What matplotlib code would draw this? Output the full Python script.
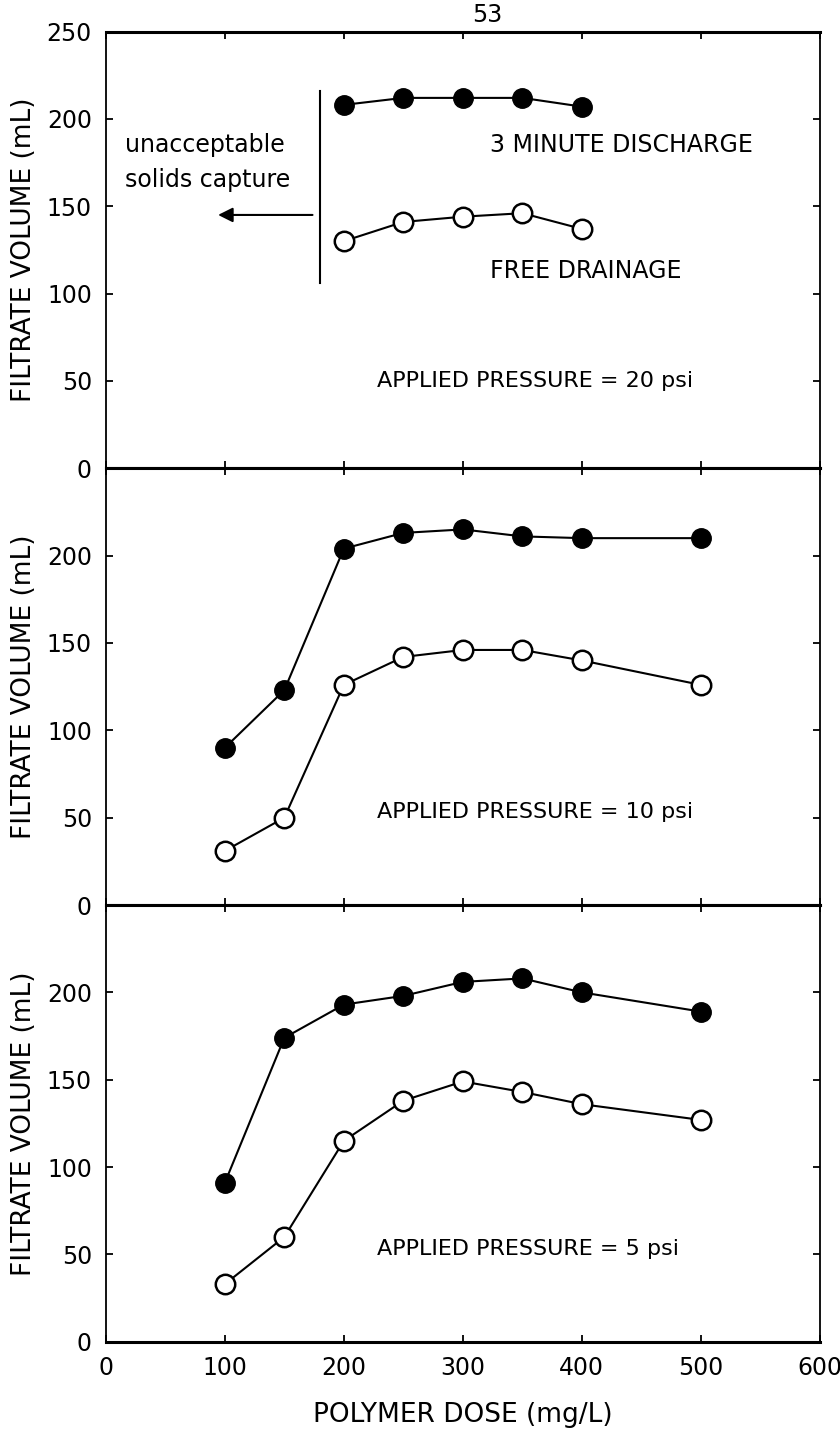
import numpy as np
import matplotlib
matplotlib.use('Agg')
import matplotlib.pyplot as plt

plt.rcParams['font.family'] = ['DejaVu Sans']

# data
dose_20 = [200, 250, 300, 350, 400]
discharge_20 = [208, 212, 212, 212, 207]
free_20 = [130, 141, 144, 146, 137]

dose = [100, 150, 200, 250, 300, 350, 400, 500]
discharge_10 = [90, 123, 204, 213, 215, 211, 210, 210]
free_10 = [31, 50, 126, 142, 146, 146, 140, 126]
discharge_5 = [91, 174, 193, 198, 206, 208, 200, 189]
free_5 = [33, 60, 115, 138, 149, 143, 136, 127]

pressures = ['20', '10', '5']
limit_dose = 180  # unacceptable solids capture below this

fig, axes = plt.subplots(3, 1, sharex=True, figsize=(8.4, 14.32), dpi=100)
plt.subplots_adjust(hspace=0, left=0.126, right=0.976, top=0.978, bottom=0.063)

series = [(dose_20, discharge_20, free_20), (dose, discharge_10, free_10), (dose, discharge_5, free_5)]

for i, (ax, (x, filled, hollow)) in enumerate(zip(axes, series)):
    ax.plot(x, filled, '-o', color='black', lw=1.5, ms=14, mfc='black', mec='black')
    ax.plot(x, hollow, '-o', color='black', lw=1.5, ms=14, mfc='white', mec='black', mew=1.8)
    ax.set_xlim(0, 600)
    ax.set_ylim(0, 250)
    ax.set_xticks(np.arange(0, 601, 100))
    if i == 0:
        ax.set_yticks(np.arange(0, 251, 50))
    else:
        ax.set_yticks(np.arange(0, 201, 50))
    ax.tick_params(direction='in', top=True, right=True, length=5, width=1.3,
                   labelsize=17, pad=10)
    for s in ax.spines.values():
        s.set_linewidth(1.3)
    ax.spines['bottom'].set_linewidth(2.2)
    ax.spines['top'].set_linewidth(2.2)
    ax.set_ylabel('FILTRATE VOLUME (mL)', fontsize=19, labelpad=7)
    ax.text(228, 50 if i == 0 else 53, 'APPLIED PRESSURE = %s psi' % pressures[i],
            fontsize=16, va='center')

ax = axes[0]
ax.plot([limit_dose, limit_dose], [106, 216], color='black', lw=1.5)
ax.annotate('', xy=(92, 145), xytext=(limit_dose - 4, 145),
            arrowprops=dict(arrowstyle='-|>', color='black', lw=1.5, mutation_scale=22))
ax.text(16, 175, 'unacceptable\nsolids capture', fontsize=17, va='center', linespacing=1.6)
ax.text(323, 185, '3 MINUTE DISCHARGE', fontsize=17, va='center')
ax.text(323, 113, 'FREE DRAINAGE', fontsize=17, va='center')

axes[2].set_xlabel('POLYMER DOSE (mg/L)', fontsize=19, labelpad=16)
fig.text(0.58, 0.998, '53', fontsize=17, ha='center', va='top')

plt.savefig('out.png', dpi=100)
